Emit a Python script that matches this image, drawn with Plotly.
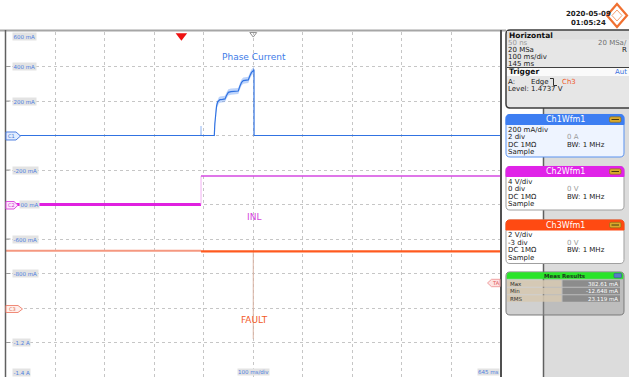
import plotly.graph_objects as go

W, H = 629, 377

def px(x):
    return x / W

def py(y):
    return 1 - y / H

# ---------------- data ----------------
# Ch1: Phase current (A) vs time (ms)
ch1_t = [-355, 66.4, 67.5, 69.2, 71.0, 73.3, 75.5, 77.9, 83.0, 88.0, 91.0,
         94.7, 100.0, 108.0, 114.8, 118.0, 121.5, 124.9, 130.0, 135.0, 138.0, 141.5,
         145.1, 146.5, 146.6, 645]
ch1_a = [0.0, 0.0, 0.07, 0.136, 0.172, 0.196, 0.204, 0.208, 0.209, 0.212, 0.232,
         0.25, 0.254, 0.256, 0.258, 0.285, 0.308, 0.318, 0.320, 0.322, 0.345, 0.366,
         0.376, 0.383, 0.0, 0.0]
band_start, band_end = 1, 24   # rising section that carries the noise envelope
band_halfwidth = 0.018
ch1_blip_t = [38.6, 39.6, 40.6]
ch1_blip_a = [0.0, 0.055, 0.0]

# Ch2: INL (V)
inl_pre_t = [-355, 39.6]
inl_pre_v = [0.0, 0.0]
inl_edge_t = [39.6, 39.6]
inl_edge_v = [0.0, 3.3]
inl_post_t = [39.6, 645]
inl_post_v = [3.3, 3.3]

# Ch3: FAULT (V)
fault_pre_t = [-355, 39.6]
fault_pre_v = [3.32, 3.32]
fault_post_t = [39.6, 645]
fault_post_v = [3.28, 3.28]
fault_glitch_t = [145, 145]
fault_glitch_v = [3.28, -1.8]

trigger_t = [0]
center_t = [145]

y_tick_vals = [0.6, 0.4, 0.2, -0.2, -0.6, -0.8, -1.2, -1.4]
y_tick_text = ["600 mA", "400 mA", "200 mA", "-200 mA", "-600 mA", "-800 mA", "-1.2 A", "-1.4 A"]

# ---------------- traces ----------------
fig = go.Figure()

up = [v + band_halfwidth for v in ch1_a[band_start:band_end]]
lo = [v - band_halfwidth for v in ch1_a[band_start:band_end]]
bt = ch1_t[band_start:band_end]
fig.add_trace(go.Scatter(x=bt, y=lo, mode="lines", line=dict(width=0, color="rgba(0,0,0,0)"),
                         hoverinfo="skip", showlegend=False))
fig.add_trace(go.Scatter(x=bt, y=up, mode="lines", line=dict(width=0, color="rgba(0,0,0,0)"),
                         fill="tonexty", fillcolor="rgba(110,160,245,0.45)", hoverinfo="skip",
                         showlegend=False))
fig.add_trace(go.Scatter(x=ch1_blip_t, y=ch1_blip_a, mode="lines",
                         line=dict(color="#b8d0f8", width=1), showlegend=False))
fig.add_trace(go.Scatter(x=ch1_t, y=ch1_a, mode="lines", line=dict(color="#3173e2", width=1.2),
                         showlegend=False, name="Phase Current"))

fig.add_trace(go.Scatter(x=inl_pre_t, y=inl_pre_v, yaxis="y2", mode="lines",
                         line=dict(color="#e020e0", width=3), showlegend=False))
fig.add_trace(go.Scatter(x=inl_edge_t, y=inl_edge_v, yaxis="y2", mode="lines",
                         line=dict(color="#f2b0f2", width=1), showlegend=False))
fig.add_trace(go.Scatter(x=inl_post_t, y=inl_post_v, yaxis="y2", mode="lines",
                         line=dict(color="#d548e2", width=1.6), showlegend=False))

fig.add_trace(go.Scatter(x=fault_pre_t, y=fault_pre_v, yaxis="y3", mode="lines",
                         line=dict(color="#f59880", width=2), showlegend=False))
fig.add_trace(go.Scatter(x=fault_glitch_t, y=fault_glitch_v, yaxis="y3", mode="lines",
                         line=dict(color="#d9b3a2", width=1), showlegend=False))
fig.add_trace(go.Scatter(x=fault_post_t, y=fault_post_v, yaxis="y3", mode="lines",
                         line=dict(color="#ff5a1f", width=2.4), showlegend=False))

# trigger marker and center marker at top
fig.add_trace(go.Scatter(x=trigger_t, y=[0.578], mode="markers", cliponaxis=False,
                         marker=dict(symbol="triangle-down", size=10, color="#ee1111"),
                         showlegend=False))
fig.add_trace(go.Scatter(x=center_t, y=[0.588], mode="markers", cliponaxis=False,
                         marker=dict(symbol="triangle-down-open", size=6, color="#909090"),
                         showlegend=False))

# ---------------- decorations ----------------
shapes = []
ann = []

def line(x0, y0, x1, y1, color, width):
    shapes.append(dict(type="line", xref="paper", yref="paper", x0=px(x0), y0=py(y0),
                       x1=px(x1), y1=py(y1), line=dict(color=color, width=width), layer="above"))

def rect(x0, y0, x1, y1, fill, lc=None, lw=0, layer="above"):
    shapes.append(dict(type="rect", xref="paper", yref="paper", x0=px(x0), y0=py(y1),
                       x1=px(x1), y1=py(y0), fillcolor=fill,
                       line=dict(color=lc or fill, width=lw), layer=layer))

def P(x, y):
    return f"{px(x):.5f},{py(y):.5f}"

def rrect(x0, y0, x1, y1, r, fill, lc, lw, top_only=False):
    if top_only:
        d = (f"M {P(x0+r,y0)} L {P(x1-r,y0)} Q {P(x1,y0)} {P(x1,y0+r)} L {P(x1,y1)} "
             f"L {P(x0,y1)} L {P(x0,y0+r)} Q {P(x0,y0)} {P(x0+r,y0)} Z")
    else:
        d = (f"M {P(x0+r,y0)} L {P(x1-r,y0)} Q {P(x1,y0)} {P(x1,y0+r)} L {P(x1,y1-r)} "
             f"Q {P(x1,y1)} {P(x1-r,y1)} L {P(x0+r,y1)} Q {P(x0,y1)} {P(x0,y1-r)} "
             f"L {P(x0,y0+r)} Q {P(x0,y0)} {P(x0+r,y0)} Z")
    shapes.append(dict(type="path", xref="paper", yref="paper", path=d, fillcolor=fill,
                       line=dict(color=lc, width=lw), layer="above"))

def poly(pts, fill, lc, lw=1):
    d = "M " + " L ".join(P(x, y) for x, y in pts) + " Z"
    shapes.append(dict(type="path", xref="paper", yref="paper", path=d, fillcolor=fill,
                       line=dict(color=lc, width=lw), layer="above"))

def txt(x, y, s, size=7, color="#202020", anchor="left", bold=False, bg=None,
        family="DejaVu Sans", yanchor="middle"):
    a = dict(xref="paper", yref="paper", x=px(x), y=py(y), text=f"<b>{s}</b>" if bold else s,
             showarrow=False, xanchor=anchor, yanchor=yanchor,
             font=dict(size=size, color=color, family=family), borderpad=0)
    if bg:
        a["bgcolor"] = bg
    ann.append(a)

# right side background
rect(501, 30, 629, 377, "#ffffff", layer="below")
rect(543.5, 30, 629, 377, "#dcdcdc")
line(543.5, 30, 543.5, 377, "#606060", 1.5)

# plot borders
line(0, 30.5, 506, 30.5, "#a6a6a6", 2)
line(5.5, 30, 5.5, 377, "#606060", 1.5)
line(501, 30, 501, 377, "#505050", 2)

# small ticks at the left edge
for v in [0.4, 0.2, -0.2, -0.6, -0.8, -1.2]:
    shapes.append(dict(type="line", xref="paper", yref="y", x0=px(6), x1=px(10.5), y0=v, y1=v,
                       line=dict(color="#9a9a9a", width=1), layer="above"))

# y-axis labels in plot
for v, t in zip(y_tick_vals, y_tick_text):
    ya = "middle"
    if v == 0.6:
        ya = "top"
    if v == -1.4:
        ya = "bottom"
    ann.append(dict(xref="paper", yref="y", x=px(11.5), y=v, text=t, showarrow=False,
                    xanchor="left", yanchor=ya, bgcolor="#e3e3e3", borderpad=0.5,
                    font=dict(size=5.5, color="#4f7fe0", family="DejaVu Sans")))
ann.append(dict(xref="paper", yref="y", x=px(18.5), y=-0.4, text="00 mA", showarrow=False,
                xanchor="left", yanchor="middle", bgcolor="#e3e3e3", borderpad=0.5,
                font=dict(size=5.5, color="#4f7fe0", family="DejaVu Sans")))

# channel tags
poly([(6, 132), (16, 132), (20.5, 136), (16, 140), (6, 140)], "#e2ecff", "#5080e0")
txt(11.5, 136, "C1", size=5, color="#4070d0", anchor="center")
poly([(6, 201.5), (14, 201.5), (18, 205.2), (14, 209), (6, 209)], "#fce4fc", "#e050e0")
txt(11, 205.2, "C2", size=5, color="#d040d0", anchor="center")
poly([(6, 305.5), (18, 305.5), (22.5, 309), (18, 312.5), (6, 312.5)], "#fff0ec", "#f08a78")
txt(12.5, 309, "C3", size=5, color="#e06a50", anchor="center")
poly([(487.5, 283), (491.5, 279.3), (500, 279.3), (500, 286.7), (491.5, 286.7)], "#fde2e2", "#f0a0a0")
txt(495.5, 283, "TA", size=5, color="#e05050", anchor="center")

# bottom labels
txt(253, 372, "100 ms/div", size=5.5, color="#4f7fe0", anchor="center", bg="#e3e3e3")
txt(500, 372, "645 ms", size=5.5, color="#4f7fe0", anchor="right", bg="#e3e3e3")

# in-plot signal names
for name, yv, col in [("Phase Current", 0.455, "#3d7be8"), ("INL", -0.472, "#d545dd"),
                      ("FAULT", -1.07, "#f25a28")]:
    ann.append(dict(xref="x", yref="y", x=147, y=yv, text=name, showarrow=False,
                    xanchor="center", yanchor="middle",
                    font=dict(size=9, color=col, family="DejaVu Sans")))

# timestamp and logo
txt(588, 13.5, "2020-05-09", size=7, color="#202020", anchor="center", bold=True)
txt(588, 23.5, "01:05:24", size=7, color="#202020", anchor="center", bold=True)
poly([(617, 4), (627, 15.5), (617, 27), (607, 15.5)], "rgba(0,0,0,0)", "#f07030", 2.2)
poly([(612, 15.5), (617, 10), (622, 15.5), (617, 21)], "rgba(0,0,0,0)", "#f4a070", 1)

# Horizontal panel
rrect(506, 30, 640, 108, 4, "#e6e6e6", "#3c3c3c", 1.5)
rect(507, 31, 629, 39.5, "#dedede")
rect(507, 67.5, 629, 76, "#fafafa")
line(507, 67.5, 629, 67.5, "#404040", 1)
txt(508, 35, "Horizontal", size=7.5, color="#101010", bold=True)
txt(507, 43.3, "50 ns", size=7, color="#9a9a9a")
txt(628, 43.3, "20 MSa/", size=7, color="#707070", anchor="right")
txt(507, 50, "20 MSa", size=7)
txt(628, 50, "R", size=7, anchor="right")
txt(507, 56.8, "100 ms/div", size=7)
txt(507, 64, "145 ms", size=7)
txt(508, 71.8, "Trigger", size=7.5, color="#101010", bold=True)
txt(628, 71.8, "Aut", size=7, color="#3a70e0", anchor="right")
txt(507, 81.7, "A:", size=7)
txt(530, 81.7, "Edge", size=7)
line(550, 78.5, 553.5, 78.5, "#303030", 1)
line(553.5, 78.5, 553.5, 85.5, "#303030", 1)
line(553.5, 85.5, 557, 85.5, "#303030", 1)
txt(561, 81.7, "Ch3", size=7, color="#f05a28")
txt(507, 89.3, "Level: 1.4737 V", size=7)

# channel panels
def ch_panel(y0, y1, head_col, title, body_fill, border, rows):
    rrect(506, y0, 624, y1, 4, body_fill, border, 1)
    rrect(506, y0, 624, y0 + 10, 4, head_col, head_col, 1, top_only=True)
    txt(565, y0 + 5.2, title, size=8, color="#ffffff", anchor="center")
    rrect(609.5, y0 + 2.3, 621, y0 + 7.8, 1.5, "#d9a92c", "#8a6a10", 0.6)
    line(611.5, y0 + 5, 619, y0 + 5, "#4a3a10", 1)
    for i, (l, r, rc) in enumerate(rows):
        yy = y0 + 15.3 + i * 7.5
        txt(507, yy, l, size=7)
        if r:
            txt(566, yy, r, size=7, color=rc)

ch_panel(114.5, 157, "#3d7ef2", "Ch1Wfm1", "#eef4ff", "#5b93f0",
         [("200 mA/div", None, None), ("2 div", "0 A", "#9a9a9a"),
          ("DC 1MΩ", "BW: 1 MHz", "#202020"), ("Sample", None, None)])
ch_panel(166.5, 210, "#e023e8", "Ch2Wfm1", "#ffffff", "#a0a0a0",
         [("4 V/div", None, None), ("0 div", "0 V", "#9a9a9a"),
          ("DC 1MΩ", "BW: 1 MHz", "#202020"), ("Sample", None, None)])
ch_panel(220, 263.5, "#ff4a12", "Ch3Wfm1", "#ffffff", "#a0a0a0",
         [("2 V/div", None, None), ("-3 div", "0 V", "#9a9a9a"),
          ("DC 1MΩ", "BW: 1 MHz", "#202020"), ("Sample", None, None)])

# Meas results panel
rrect(506, 272, 624, 315, 4, "rgba(150,150,150,0.45)", "#7a7a7a", 1)
rrect(507, 272.5, 623, 278.8, 3, "#2ae42a", "#2ae42a", 0.5, top_only=True)
txt(565, 275.7, "Meas Results", size=5.5, color="#1a3a1a", anchor="center", bold=True)
rrect(614, 273.3, 621.5, 277.8, 1, "#5a7ac8", "#304a90", 0.5)
for i, (lab, val) in enumerate([("Max", "382.61 mA"), ("Min", "-12.648 mA"), ("RMS", "23.119 mA")]):
    y0 = 280.2 + i * 7.5
    rect(507, y0, 561.5, y0 + 6.5, "rgba(214,200,176,0.85)")
    rect(562.5, y0, 620, y0 + 6.5, "#8c8c8c")
    txt(508.5, y0 + 3.3, lab, size=5.5, color="#303030")
    txt(619, y0 + 3.3, val, size=5.5, color="#ffffff", anchor="right")

grid = dict(showgrid=True, gridcolor="#c6c6c6", griddash="dot", gridwidth=1,
            showticklabels=False, ticks="", zeroline=False, showline=False, fixedrange=True)

fig.update_layout(
    width=W, height=H,
    margin=dict(l=0, r=0, t=0, b=0),
    paper_bgcolor="#ffffff", plot_bgcolor="#ffffff",
    font=dict(family="DejaVu Sans"),
    xaxis=dict(domain=[px(5.5), px(501)], range=[-355, 645], tick0=-355, dtick=100, **grid),
    yaxis=dict(domain=[0, py(32)], range=[-1.4, 0.6], tick0=0, dtick=0.2, **grid),
    yaxis2=dict(overlaying="y", range=[-20, 20], visible=False, fixedrange=True),
    yaxis3=dict(overlaying="y", range=[-4, 16], visible=False, fixedrange=True),
    shapes=shapes, annotations=ann, showlegend=False,
)

fig.write_html("out.html", config={"displayModeBar": False},
               post_script="document.body.style.margin='0px';document.body.style.overflow='hidden';")
